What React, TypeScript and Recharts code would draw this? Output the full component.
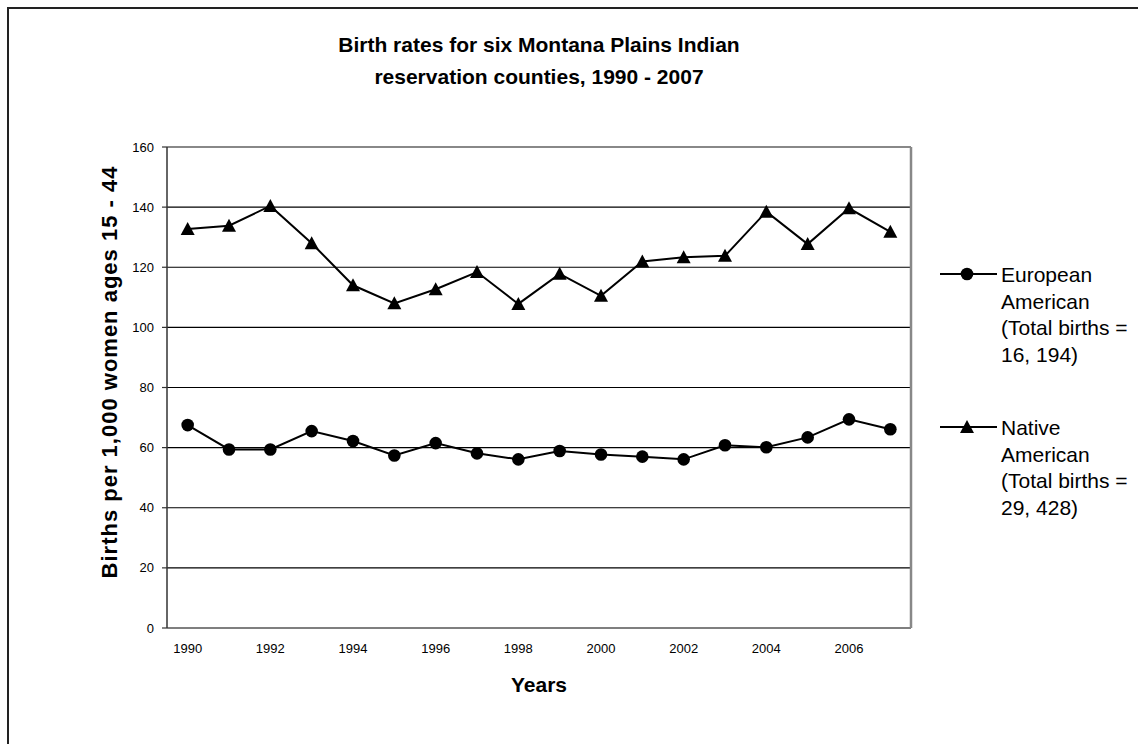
import React from 'react';
import { LineChart, Line, XAxis, YAxis, CartesianGrid, ReferenceLine } from 'recharts';

const years = [1990, 1991, 1992, 1993, 1994, 1995, 1996, 1997, 1998, 1999, 2000, 2001, 2002, 2003, 2004, 2005, 2006, 2007];
const european = [67.5, 59.4, 59.4, 65.5, 62.2, 57.4, 61.5, 58.1, 56.1, 58.9, 57.7, 57.0, 56.1, 60.8, 60.1, 63.4, 69.4, 66.1];
const native = [132.7, 133.8, 140.4, 128.0, 114.0, 108.0, 112.7, 118.4, 107.8, 117.8, 110.5, 121.9, 123.3, 123.8, 138.5, 127.7, 139.6, 131.8];
const yTicks = [0, 20, 40, 60, 80, 100, 120, 140, 160];
const yearLabels = [1990, 1992, 1994, 1996, 1998, 2000, 2002, 2004, 2006];
const bandEdges = [1989.5, 1990.5, 1991.5, 1992.5, 1993.5, 1994.5, 1995.5, 1996.5, 1997.5, 1998.5, 1999.5, 2000.5, 2001.5, 2002.5, 2003.5, 2004.5, 2005.5, 2006.5, 2007.5];

const titleLines = ['Birth rates for six Montana Plains Indian', 'reservation counties, 1990 - 2007'];
const yLabel = 'Births per 1,000 women ages 15 - 44';
const xLabel = 'Years';
const legendEuropean = ['European', 'American', '(Total births =', '16, 194)'];
const legendNative = ['Native', 'American', '(Total births =', '29, 428)'];

const data = years.map((y, i) => ({ year: y, european: european[i], native: native[i] }));

const FONT = 'Arial, "Liberation Sans", Helvetica, sans-serif';

const CircleDot = (props: any) => {
  const { cx, cy } = props;
  if (cx == null || cy == null) return null;
  return <circle cx={cx} cy={cy} r={6.3} fill="#000" stroke="none" />;
};

const TriangleDot = (props: any) => {
  const { cx, cy } = props;
  if (cx == null || cy == null) return null;
  return <polygon points={`${cx},${cy - 7} ${cx - 7},${cy + 6} ${cx + 7},${cy + 6}`} fill="#000" stroke="none" />;
};

const LegendBlock = ({ lines, top, marker }: { lines: string[]; top: number; marker: 'circle' | 'triangle' }) => (
  <div style={{ position: 'absolute', left: 938, top, width: 200 }}>
    <svg width={62} height={20} style={{ position: 'absolute', left: 0, top: 2 }}>
      <line x1={2} y1={10} x2={59} y2={10} stroke="#000" strokeWidth={2} />
      {marker === 'circle' ? (
        <circle cx={29} cy={10} r={6.3} fill="#000" />
      ) : (
        <polygon points="29,3 22,16 36,16" fill="#000" />
      )}
    </svg>
    <div style={{ position: 'absolute', left: 63, top: 0, fontFamily: FONT, fontSize: 21, lineHeight: '26.5px', color: '#000', whiteSpace: 'nowrap' }}>
      {lines.map((l, i) => (
        <div key={i}>{l}</div>
      ))}
    </div>
  </div>
);

export default function App() {
  return (
    <div style={{ position: 'absolute', left: 0, top: 0, width: 1138, height: 744, overflow: 'hidden', background: '#fff', fontFamily: FONT }}>
      <div style={{ position: 'absolute', left: 7, top: 7, width: 1300, height: 900, borderLeft: '2px solid #222', borderTop: '2px solid #222' }} />
      <div style={{ position: 'absolute', left: 167, width: 744, top: 29, textAlign: 'center', fontWeight: 'bold', fontSize: 21, lineHeight: '32px', color: '#000' }}>
        {titleLines.map((t, i) => (
          <div key={i}>{t}</div>
        ))}
      </div>
      <div style={{ position: 'absolute', left: 110, top: 372, transform: 'translate(-50%, -50%) rotate(-90deg)', whiteSpace: 'nowrap', fontWeight: 'bold', fontSize: 22, letterSpacing: 1, color: '#000' }}>
        {yLabel}
      </div>
      <div style={{ position: 'absolute', left: 167, width: 744, top: 673, textAlign: 'center', fontWeight: 'bold', fontSize: 21, color: '#000' }}>
        {xLabel}
      </div>
      <LineChart width={1138} height={744} data={data} margin={{ top: 147, right: 227, bottom: 86, left: 107 }} style={{ position: 'absolute', left: 0, top: 0 }}>
        <CartesianGrid horizontal vertical={false} stroke="#000" strokeWidth={1.2} />
        <XAxis
          xAxisId="marks"
          dataKey="year"
          type="number"
          domain={[1989.5, 2007.5]}
          ticks={bandEdges}
          tickFormatter={() => ''}
          height={0}
          tickSize={5}
          axisLine={{ stroke: '#333', strokeWidth: 1.5 }}
          tickLine={{ stroke: '#333', strokeWidth: 1.2 }}
          allowDataOverflow
        />
        <XAxis
          xAxisId="labels"
          dataKey="year"
          type="number"
          domain={[1989.5, 2007.5]}
          ticks={yearLabels}
          height={30}
          axisLine={false}
          tickLine={false}
          tickSize={5}
          tickMargin={11}
          interval={0}
          tick={{ fontSize: 13, fill: '#000', fontFamily: FONT }}
          allowDataOverflow
        />
        <YAxis
          domain={[0, 160]}
          ticks={yTicks}
          width={60}
          tickSize={5}
          tickMargin={8}
          interval={0}
          axisLine={{ stroke: '#333', strokeWidth: 1.5 }}
          tickLine={{ stroke: '#333', strokeWidth: 1.2 }}
          tick={{ fontSize: 13, fill: '#000', fontFamily: FONT }}
        />
        <ReferenceLine y={160} xAxisId="marks" stroke="#888" strokeWidth={2} />
        <ReferenceLine x={2007.5} xAxisId="marks" stroke="#888" strokeWidth={2.5} />
        <Line xAxisId="marks" type="linear" dataKey="european" stroke="#000" strokeWidth={2} dot={<CircleDot />} isAnimationActive={false} />
        <Line xAxisId="marks" type="linear" dataKey="native" stroke="#000" strokeWidth={2} dot={<TriangleDot />} isAnimationActive={false} />
      </LineChart>
      <LegendBlock lines={legendEuropean} top={262} marker="circle" />
      <LegendBlock lines={legendNative} top={415} marker="triangle" />
    </div>
  );
}
